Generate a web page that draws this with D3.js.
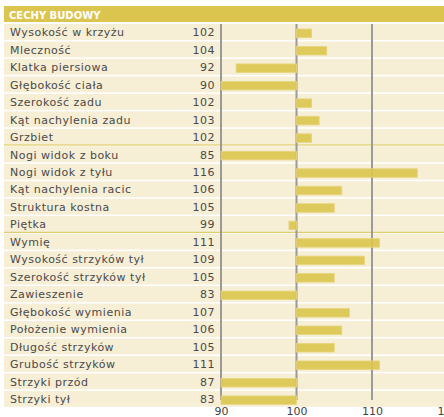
<!DOCTYPE html>
<html><head><meta charset="utf-8">
<script src="https://cdn.jsdelivr.net/npm/d3@7"></script>
<style>body{margin:0;background:#fff;overflow:hidden}svg{display:block}</style>
</head><body>
<svg id="c" width="444" height="417"></svg>
<script>
const title = "CECHY BUDOWY";
const categories = ["Wysokość w krzyżu","Mleczność","Klatka piersiowa","Głębokość ciała","Szerokość zadu","Kąt nachylenia zadu","Grzbiet","Nogi widok z boku","Nogi widok z tyłu","Kąt nachylenia racic","Struktura kostna","Piętka","Wymię","Wysokość strzyków tył","Szerokość strzyków tył","Zawieszenie","Głębokość wymienia","Położenie wymienia","Długość strzyków","Grubość strzyków","Strzyki przód","Strzyki tył"];
const values = [102,104,92,90,102,103,102,85,116,106,105,99,111,109,105,83,107,106,105,111,87,83];
const groupStarts = [7,12];
const tickValues = [90,100,110,120];

const svg = d3.select("#c");
const font = "'DejaVu Sans', Verdana, sans-serif";
const x = d3.scaleLinear().domain([90,120]).range([221,447.5]);
const y = d3.scaleBand().domain(d3.range(categories.length)).range([24,24+17.4*categories.length]).paddingInner(0.09).paddingOuter(0);

// header
svg.append("rect").attr("x",4).attr("y",6).attr("width",440).attr("height",16).attr("fill","#dcc54e");
svg.append("text").attr("x",9).attr("y",18.5).text(title).attr("font-family",font).attr("font-size",10).attr("font-weight","bold").attr("fill","#fff");

// rows
svg.append("g").selectAll("rect").data(categories).join("rect")
  .attr("x",4).attr("y",(d,i)=>y(i)).attr("width",440).attr("height",y.bandwidth()).attr("fill","#f6eed5");

// group separators
svg.append("g").selectAll("line").data(groupStarts).join("line")
  .attr("x1",4).attr("x2",444).attr("y1",i=>y(i)-1.3).attr("y2",i=>y(i)-1.3)
  .attr("stroke","#dcc54e").attr("stroke-width",1);

// gridlines
svg.append("g").selectAll("line").data([90,100,110]).join("line")
  .attr("x1",d=>x(d)).attr("x2",d=>x(d)).attr("y1",24).attr("y2",400)
  .attr("stroke","#9a9a96").attr("stroke-width",2);

// bars
const clamp = v => Math.max(90, Math.min(120, v));
svg.append("g").selectAll("rect").data(values).join("rect")
  .attr("x",v=>x(Math.min(100,clamp(v))))
  .attr("width",v=>Math.abs(x(clamp(v))-x(100)))
  .attr("y",(v,i)=>y(i)+5).attr("height",8.5)
  .attr("fill","#dcc54e").attr("fill-opacity",0.9)
  .attr("stroke","#e6d57e").attr("stroke-width",0.8);

// labels
svg.append("g").selectAll("text").data(categories).join("text")
  .attr("x",10).attr("y",(d,i)=>y(i)+12.2).text(d=>d)
  .attr("font-family",font).attr("font-size",11).attr("letter-spacing",0.5).attr("fill","#4a4a4a");
svg.append("g").selectAll("text").data(values).join("text")
  .attr("x",215).attr("y",(d,i)=>y(i)+12.2).attr("text-anchor","end").text(d=>d)
  .attr("font-family",font).attr("font-size",11).attr("letter-spacing",0.5).attr("fill","#4a4a4a");

// axis
const ax = svg.append("g").attr("transform","translate(0,405)")
  .call(d3.axisBottom(x).tickValues(tickValues).tickSize(0).tickPadding(2));
ax.select(".domain").remove();
ax.selectAll("text").attr("font-family",font).attr("font-size",11).attr("fill","#444");
</script>
</body></html>
